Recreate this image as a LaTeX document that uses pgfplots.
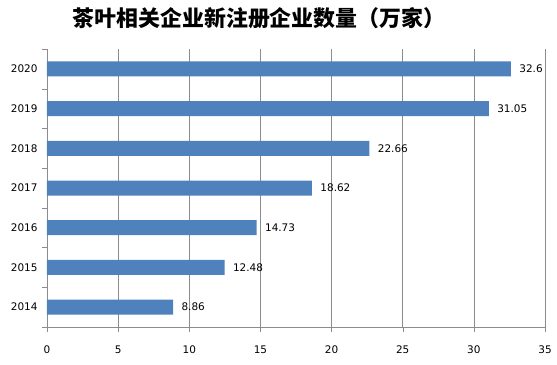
\documentclass[border=0pt]{standalone}
\usepackage{pgfplots}
\usepackage{pgfplotstable}
\usepackage{fontspec}
\setmainfont{DejaVu Sans}
\newfontfamily\cjk{Noto Sans CJK SC}
\pgfplotsset{compat=1.18}
\definecolor{barblue}{HTML}{4F81BD}
\definecolor{gridgray}{HTML}{8C8C8C}
\pgfplotstableread{
pos val lab
0 8.86 8.86
1 12.48 12.48
2 14.73 14.73
3 18.62 18.62
4 22.66 22.66
5 31.05 31.05
6 32.6 32.6
}\datatab
\begin{document}
\begin{tikzpicture}
\useasboundingbox (0,0) rectangle (557bp,365bp);
\begin{axis}[
  at={(47bp,38bp)}, anchor=south west,
  scale only axis, width=498bp, height=278bp,
  xbar, bar width=15bp,
  xmin=0, xmax=35, ymin=-0.5, ymax=6.5,
  xtick={0,5,...,35},
  ytick={-0.5,0.5,...,6.5},
  yticklabels={},
  extra y ticks={0,1,2,3,4,5,6},
  extra y tick labels={2014,2015,2016,2017,2018,2019,2020},
  extra y tick style={major tick length=0pt, yticklabel style={xshift=-6bp}},
  axis lines=left, axis line style={-, gridgray},
  xmajorgrids, major grid style={gridgray, line width=0.5pt},
  tick align=outside,
  major tick style={gridgray},
  major tick length=5bp,
  /pgf/number format/assume math mode=true,
  tick label style={font=\fontsize{10.5}{12}\selectfont, black},
  xticklabel style={yshift=-10bp},
  nodes near coords,
  point meta=explicit symbolic,
  every node near coord/.append style={font=\fontsize{10.5}{12}\selectfont, black, anchor=west, xshift=5bp},
  clip=false,
]
\addplot[fill=barblue, draw=none] table[x=val, y=pos, meta=lab] {\datatab};
\end{axis}
\node at (259bp,347bp) {\cjk\bfseries\fontsize{22}{24}\selectfont 茶叶相关企业新注册企业数量（万家）};
\end{tikzpicture}
\end{document}
